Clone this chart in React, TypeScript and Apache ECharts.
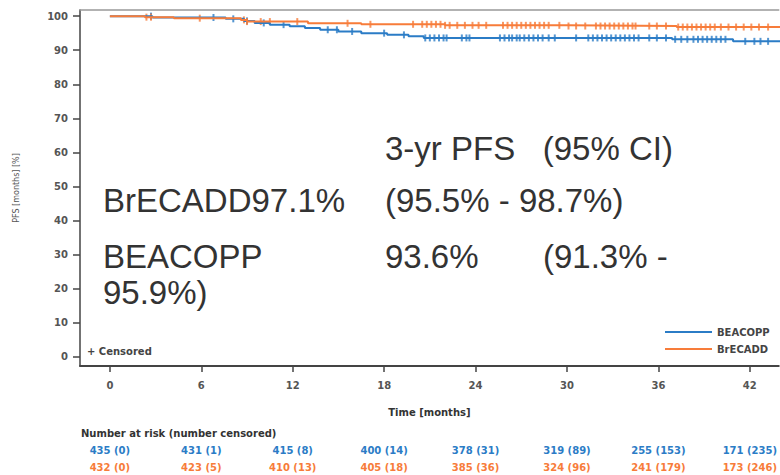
import React, { useEffect, useRef } from "react";
import * as echarts from "echarts";

// Kaplan–Meier step points (time in months, PFS in %)
const beacoppTime = [0, 2.8, 7.6, 8.8, 9.5, 10.5, 11.8, 12.8, 13.8, 15.0, 16.5, 18.2, 19.6, 20.6, 36.9, 40.9, 44];
const beacoppPfs = [100, 99.6, 99.2, 98.6, 98.0, 97.5, 97.0, 96.5, 96.0, 95.5, 95.0, 94.5, 94.1, 93.6, 93.2, 92.6, 92.6];
const brecaddTime = [0, 2.3, 4.2, 8.6, 9.0, 13.0, 16.5, 22.0, 30.0, 37.2, 44];
const brecaddPfs = [100, 99.7, 99.4, 98.9, 98.4, 97.9, 97.6, 97.3, 97.1, 96.8, 96.8];

// Censoring times (months)
const beacoppCensor = [2.7, 6.8, 8.1, 9.0, 10.1, 11.4, 14.3, 14.9, 15.9, 18.0, 19.3, 20.7, 21.0, 21.3, 21.6, 21.9, 22.1, 23.1, 23.4, 23.6, 25.6, 25.9, 26.2, 26.4, 26.7, 26.9, 27.2, 27.5, 27.8, 28.1, 28.4, 28.8, 29.2, 30.6, 31.4, 31.7, 32.0, 32.3, 32.6, 32.9, 33.2, 33.5, 33.8, 34.1, 34.4, 34.7, 35.4, 35.9, 36.5, 37.1, 37.5, 37.9, 38.3, 38.6, 38.9, 39.2, 39.5, 39.8, 40.1, 40.4, 41.7, 42.3, 42.7, 43.2];
const brecaddCensor = [2.4, 2.7, 5.9, 8.8, 9.0, 9.9, 10.5, 12.3, 15.6, 17.1, 19.9, 20.5, 20.8, 21.1, 21.4, 21.7, 22.0, 22.3, 22.8, 23.3, 23.8, 24.2, 24.7, 25.8, 26.1, 26.4, 26.7, 27.0, 27.3, 27.6, 27.9, 28.2, 28.5, 28.8, 29.5, 30.1, 30.6, 31.2, 31.9, 32.2, 32.5, 32.8, 33.1, 33.4, 33.7, 34.0, 34.3, 34.5, 35.4, 35.9, 36.5, 37.3, 37.6, 37.9, 38.2, 38.5, 38.8, 39.1, 39.4, 39.7, 40.1, 40.6, 41.1, 41.6, 42.1, 42.6, 43.2];

// Axis ticks
const monthTicks = [0, 6, 12, 18, 24, 30, 36, 42];
const pfsTicks = [0, 10, 20, 30, 40, 50, 60, 70, 80, 90, 100];

// Number at risk (number censored) at each month tick
const beacoppAtRisk = [435, 431, 415, 400, 378, 319, 255, 171];
const beacoppCensored = [0, 1, 8, 14, 31, 89, 153, 235];
const brecaddAtRisk = [432, 423, 410, 405, 385, 324, 241, 173];
const brecaddCensored = [0, 5, 13, 18, 36, 96, 179, 246];

const BLUE = "#2b7cc6";
const ORANGE = "#f77c3a";
const SMALL_FONT = "DejaVu Sans";
const BIG_FONT = "Liberation Sans, Arial, sans-serif";

function stepValue(times: number[], values: number[], t: number): number {
  let v = values[0];
  for (let i = 0; i < times.length; i++) {
    if (times[i] <= t) v = values[i];
  }
  return v;
}

function zip(times: number[], values: number[]) {
  return times.map((t, i) => [t, values[i]]);
}

function riskLabel(atRisk: number[], censored: number[]) {
  return (v: number) => {
    const i = monthTicks.indexOf(Math.round(v));
    return i < 0 ? "" : `${atRisk[i]} (${censored[i]})`;
  };
}

export default function App() {
  const ref = useRef<HTMLDivElement>(null);

  useEffect(() => {
    if (!ref.current) return;
    const chart = echarts.init(ref.current, undefined, { renderer: "svg" });

    const xMin = -1.96;
    const xMax = 43.9;

    const riskAxis = (offset: number, color: string, fn: (v: number) => string) => ({
      type: "value" as const,
      position: "bottom" as const,
      min: xMin,
      max: xMax,
      offset,
      axisLine: { show: false, onZero: false },
      axisTick: { show: false },
      splitLine: { show: false },
      axisLabel: {
        customValues: monthTicks,
        formatter: fn,
        margin: 0,
        color,
        fontFamily: SMALL_FONT,
        fontWeight: "bold" as const,
        fontSize: 10,
      },
    });

    const bigText = (text: string, x: number, y: number) => ({
      type: "text" as const,
      x,
      y,
      style: {
        text,
        fill: "#333",
        font: `33px ${BIG_FONT}`,
        verticalAlign: "middle" as const,
        align: "left" as const,
      },
    });

    chart.setOption({
      animation: false,
      backgroundColor: "#fff",
      grid: { left: 80, top: 10, right: -1, bottom: 109 },
      legend: {
        data: ["BEACOPP", "BrECADD"],
        orient: "vertical",
        left: 665,
        top: 327,
        padding: 0,
        itemWidth: 47,
        itemHeight: 2,
        itemGap: 7,
        icon: "rect",
        textStyle: { fontFamily: SMALL_FONT, fontWeight: "bold", fontSize: 10, color: "#444" },
      },
      xAxis: [
        {
          type: "value",
          min: xMin,
          max: xMax,
          name: "Time [months]",
          nameLocation: "middle",
          nameGap: 41,
          nameTextStyle: { fontFamily: SMALL_FONT, fontWeight: "bold", fontSize: 10, color: "#333" },
          axisLine: { onZero: false, lineStyle: { color: "#444", width: 2 } },
          axisTick: { customValues: monthTicks, length: 6, lineStyle: { color: "#444", width: 1.5 } },
          axisLabel: {
            customValues: monthTicks,
            margin: 14,
            color: "#555",
            fontFamily: SMALL_FONT,
            fontWeight: "bold",
            fontSize: 10,
          },
          splitLine: { show: false },
        },
        {
          type: "value",
          position: "top",
          min: xMin,
          max: xMax,
          axisLine: { onZero: false, lineStyle: { color: "#999", width: 1.5 } },
          axisTick: { show: false },
          axisLabel: { show: false },
          splitLine: { show: false },
        },
        riskAxis(79, BLUE, riskLabel(beacoppAtRisk, beacoppCensored)),
        riskAxis(96, ORANGE, riskLabel(brecaddAtRisk, brecaddCensored)),
      ],
      yAxis: {
        type: "value",
        position: "left",
        min: -2.7,
        max: 101.8,
        name: "PFS [months] [%]",
        nameLocation: "middle",
        nameGap: 60,
        nameRotate: 90,
        nameTextStyle: { fontFamily: SMALL_FONT, fontSize: 8, color: "#555" },
        axisLine: { show: true, onZero: false, lineStyle: { color: "#444", width: 1.5 } },
        axisTick: { show: true, customValues: pfsTicks, length: 7, lineStyle: { color: "#444", width: 1.5 } },
        axisLabel: {
          customValues: pfsTicks,
          margin: 12,
          color: "#555",
          fontFamily: SMALL_FONT,
          fontWeight: "bold",
          fontSize: 10,
        },
        splitLine: { show: false },
      },
      series: [
        {
          name: "BEACOPP",
          type: "line",
          step: "end",
          symbol: "none",
          data: zip(beacoppTime, beacoppPfs),
          itemStyle: { color: BLUE },
          lineStyle: { color: BLUE, width: 2 },
        },
        {
          name: "BEACOPP censored",
          type: "scatter",
          symbol: "rect",
          symbolSize: [2, 7],
          data: beacoppCensor.map((t) => [t, stepValue(beacoppTime, beacoppPfs, t)]),
          itemStyle: { color: BLUE },
        },
        {
          name: "BrECADD",
          type: "line",
          step: "end",
          symbol: "none",
          data: zip(brecaddTime, brecaddPfs),
          itemStyle: { color: ORANGE },
          lineStyle: { color: ORANGE, width: 2 },
        },
        {
          name: "BrECADD censored",
          type: "scatter",
          symbol: "rect",
          symbolSize: [2, 7],
          data: brecaddCensor.map((t) => [t, stepValue(brecaddTime, brecaddPfs, t)]),
          itemStyle: { color: ORANGE },
        },
      ],
      graphic: [
        bigText("3-yr PFS\u00a0\u00a0 (95% CI)", 385, 148),
        bigText("BrECADD97.1%", 103, 200),
        bigText("(95.5% - 98.7%)", 385, 200),
        bigText("BEACOPP", 103, 256),
        bigText("93.6%", 385, 256),
        bigText("(91.3% -", 543, 256),
        bigText("95.9%)", 103, 292),
        {
          type: "text",
          x: 87,
          y: 351,
          style: {
            text: "+ Censored",
            fill: "#444",
            font: `bold 10px ${SMALL_FONT}`,
            verticalAlign: "middle",
          },
        },
        {
          type: "text",
          x: 81,
          y: 433,
          style: {
            text: "Number at risk (number censored)",
            fill: "#333",
            font: `bold 10px ${SMALL_FONT}`,
            verticalAlign: "middle",
          },
        },
      ],
    });

    return () => chart.dispose();
  }, []);

  return (
    <div
      ref={ref}
      style={{ position: "fixed", left: 0, top: 0, width: 780, height: 475, background: "#fff" }}
    />
  );
}
